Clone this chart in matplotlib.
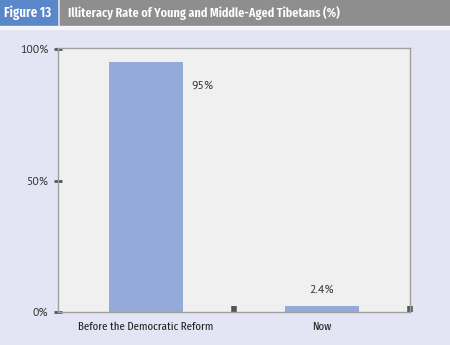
import matplotlib
matplotlib.use("Agg")
import matplotlib.pyplot as plt
from matplotlib.patches import Rectangle

categories = ["Before the Democratic Reform", "Now"]
rates = [95, 2.4]
value_labels = ["95%", "2.4%"]
yticks = [0, 50, 100]
ytick_labels = ["0%", "50%", "100%"]

BG = "#E3E5F5"
BAR = "#94AAD8"
NARROW = ["Fira Sans Extra Condensed", "DejaVu Sans"]
REGULAR = ["PT Sans", "DejaVu Sans"]

fig = plt.figure(figsize=(4.5, 3.45), dpi=100)
fig.patch.set_facecolor(BG)

# header strip
fig.patches.append(Rectangle((0, 1 - 26 / 345), 57 / 450, 26 / 345,
                             transform=fig.transFigure, color="#5A87C9", zorder=0))
fig.patches.append(Rectangle((60 / 450, 1 - 26 / 345), 390 / 450, 26 / 345,
                             transform=fig.transFigure, color="#8E8E8E", zorder=0))
fig.patches.append(Rectangle((0, 1 - 29 / 345), 1, 3 / 345,
                             transform=fig.transFigure, color="#F4F4FA", zorder=0))
fig.text(28 / 450, 1 - 13 / 345, "Figure 13", color="white", fontsize=10,
         fontweight="semibold", family=NARROW, ha="center", va="center")
fig.text(68 / 450, 1 - 13 / 345, "Illiteracy Rate of Young and Middle-Aged Tibetans (%)",
         color="white", fontsize=9.5, fontweight="semibold", family=NARROW,
         ha="left", va="center")

ax = fig.add_axes([58 / 450, 33 / 345, 352 / 450, 264 / 345])
ax.set_facecolor("#F0F0F0")
x = range(len(categories))
bars = ax.bar(x, rates, width=0.42, color=BAR, zorder=2)
ax.set_xlim(-0.5, 1.5)
ax.set_ylim(0, 100.4)

for sp in ax.spines.values():
    sp.set_color("#A0A0A0")
    sp.set_linewidth(1)

ax.set_yticks(yticks)
ax.set_yticklabels(ytick_labels, family=REGULAR)
ax.tick_params(axis="y", direction="inout", length=6, width=2, color="#555555",
               labelsize=8.5, labelcolor="#333333", pad=4)

ax.set_xticks(list(x))
ax.set_xticklabels(categories, family=NARROW, fontsize=8.5, color="#222222")
ax.tick_params(axis="x", length=0, pad=7)
ax.set_xticks([0.5, 1.5], minor=True)
ax.tick_params(axis="x", which="minor", direction="in", length=4, width=4,
               color="#555555")

# value labels
ax.annotate(value_labels[0], (0 + 0.21, rates[0]), xytext=(19, -23),
            textcoords="offset pixels", ha="center", va="center",
            fontsize=8.5, color="#333333", family=REGULAR)
ax.annotate(value_labels[1], (1, rates[1]), xytext=(0, 16),
            textcoords="offset pixels", ha="center", va="center",
            fontsize=8.5, color="#333333", family=REGULAR)

fig.savefig("out.png", dpi=100, facecolor=BG)
